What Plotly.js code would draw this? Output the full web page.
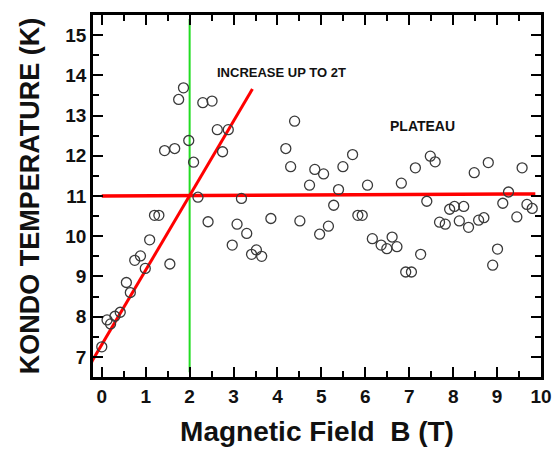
<!DOCTYPE html>
<html>
<head>
<meta charset="utf-8">
<script src="https://cdn.plot.ly/plotly-3.0.1.min.js"></script>
<style>html,body{margin:0;padding:0;background:#fff;}#chart{width:554px;height:451px;}</style>
</head>
<body>
<div id="chart"></div>
<script>
// Measured data: magnetic field B (T) and Kondo temperature (K)
const fieldB = [0.00,0.12,0.20,0.30,0.42,0.56,0.65,0.75,0.88,0.99,1.09,1.20,1.30,1.43,1.55,1.66,1.75,1.86,1.98,2.09,
  2.19,2.30,2.42,2.51,2.63,2.75,2.88,2.97,3.08,3.18,3.30,3.41,3.52,3.64,3.85,4.19,4.30,4.39,4.51,4.73,
  4.85,4.96,5.05,5.16,5.28,5.39,5.49,5.71,5.83,5.93,6.05,6.16,6.36,6.49,6.61,6.72,6.82,6.92,7.05,7.14,
  7.26,7.40,7.48,7.59,7.69,7.82,7.92,8.03,8.14,8.24,8.35,8.48,8.58,8.70,8.80,8.90,9.01,9.13,9.26,9.45,
  9.57,9.68,9.80];
const kondoT = [7.25,7.92,7.82,8.01,8.11,8.85,8.60,9.40,9.51,9.20,9.91,10.52,10.52,12.13,9.31,12.18,13.40,13.69,12.38,11.84,
  10.97,13.32,10.36,13.36,12.65,12.10,12.65,9.78,10.30,10.94,10.07,9.55,9.66,9.50,10.44,12.18,11.73,12.86,10.38,11.27,
  11.66,10.05,11.55,10.25,10.77,11.16,11.73,12.03,10.52,10.52,11.27,9.94,9.78,9.69,9.98,9.74,11.32,9.11,9.11,11.70,
  9.55,10.87,11.99,11.85,10.35,10.30,10.67,10.74,10.38,10.74,10.22,11.58,10.40,10.46,11.83,9.28,9.68,10.82,11.10,10.48,
  11.70,10.79,10.69];
// Guide lines
const riseX = [-0.31, 3.43];
const riseY = [6.73, 13.66];
const plateauX = [0, 9.87];
const plateauY = [11.0, 11.05];
const markX = [2, 2];
const markY = [6.62, 15.4];

const FONT = 'Arial, "Liberation Sans", sans-serif';

const traces = [
  {x: markX, y: markY, mode: 'lines', line: {color: '#22dd22', width: 2}, hoverinfo: 'skip'},
  {x: riseX, y: riseY, mode: 'lines', line: {color: '#ff0000', width: 3}, hoverinfo: 'skip'},
  {x: plateauX, y: plateauY, mode: 'lines', line: {color: '#ff0000', width: 3.5}, hoverinfo: 'skip'},
  {x: fieldB, y: kondoT, mode: 'markers', cliponaxis: false,
   marker: {symbol: 'circle-open', size: 10, color: '#3a3a3a', line: {width: 1.3, color: '#3a3a3a'}}}
];

const axisCommon = {
  showgrid: false, zeroline: false, showline: true, linewidth: 2.5, linecolor: '#000',
  mirror: 'allticks', ticks: 'inside', ticklen: 10, tickwidth: 2, tickcolor: '#000',
  tickfont: {family: FONT, size: 19, color: '#111', weight: 'bold'},
  minor: {dtick: 0.5, ticks: 'inside', ticklen: 6}
};

const layout = {
  width: 554, height: 451,
  margin: {l: 93, r: 13, t: 15, b: 74},
  showlegend: false,
  xaxis: Object.assign({}, axisCommon, {
    range: [-0.2, 10], nticks: 11,
    title: {text: 'Magnetic Field\u00a0\u00a0B (T)', font: {family: FONT, size: 28, color: '#111', weight: 'bold'}, standoff: 16}
  }),
  yaxis: Object.assign({}, axisCommon, {
    range: [6.5, 15.5], nticks: 10,
    title: {text: 'KONDO TEMPERATURE (K)', font: {family: FONT, size: 27, color: '#111', weight: 'bold'}, standoff: 18}
  }),
  annotations: [
    {x: 4.1, y: 14.08, xref: 'x', yref: 'y', text: 'INCREASE UP TO 2T', showarrow: false,
     font: {family: FONT, size: 13, color: '#111', weight: 'bold'}},
    {x: 7.3, y: 12.73, xref: 'x', yref: 'y', text: 'PLATEAU', showarrow: false,
     font: {family: FONT, size: 14, color: '#111', weight: 'bold'}}
  ]
};

Plotly.newPlot('chart', traces, layout, {displayModeBar: false});
</script>
</body>
</html>
